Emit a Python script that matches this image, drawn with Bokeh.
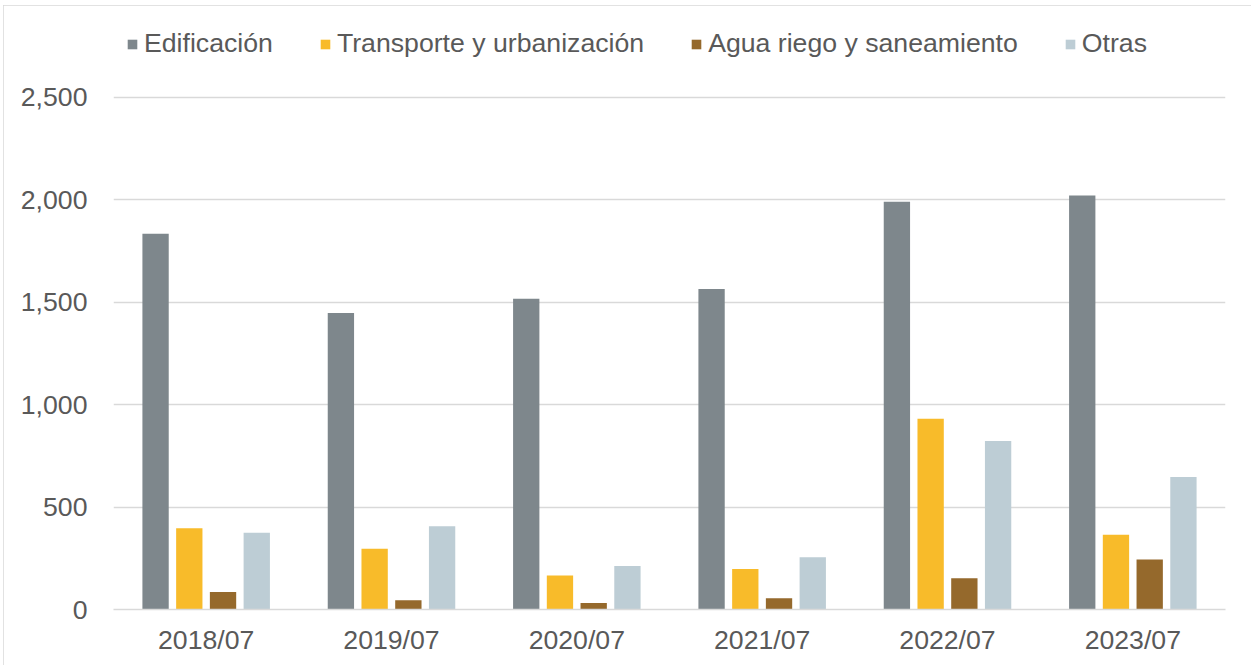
from bokeh.plotting import figure
from bokeh.models import FactorRange, Range1d, Legend, LegendItem, NumeralTickFormatter, FixedTicker
from bokeh.transform import dodge
from bokeh.embed import file_html
from bokeh.resources import INLINE

categories = ["2018/07", "2019/07", "2020/07", "2021/07", "2022/07", "2023/07"]
edificacion = [1834, 1447, 1516, 1564, 1990, 2020]
transporte = [397, 297, 166, 198, 931, 365]
agua = [85, 45, 32, 55, 153, 244]
otras = [374, 406, 212, 255, 822, 646]
series_names = ["Edificación", "Transporte y urbanización", "Agua riego y saneamiento", "Otras"]
colors = ["#7e878c", "#f8bb2a", "#95692c", "#bdcdd5"]
y_ticks = [0, 500, 1000, 1500, 2000, 2500]

data = dict(cat=categories, e=edificacion, t=transporte, a=agua, o=otras)

FONT = "Liberation Sans"
TXT = "#595959"

# y range extends above 2,500 so the legend sits inside the (unclipped) frame area
p = figure(x_range=FactorRange(*categories), y_range=Range1d(0, 2928),
           width=1248, height=660, output_backend="svg", toolbar_location=None,
           min_border_left=110, min_border_right=26, min_border_top=4, min_border_bottom=56,
           background_fill_color="white", border_fill_color="white")
p.styles = {"margin-left": "3px", "margin-top": "5px",
            "outline": "1px solid #d9d9d9", "outline-offset": "-1px"}
p.outline_line_color = None

offsets = [-0.273, -0.091, 0.091, 0.273]
keys = ["e", "t", "a", "o"]
renderers = []
for k, off, c in zip(keys, offsets, colors):
    r = p.vbar(x=dodge("cat", off, range=p.x_range), top=k, width=0.142, source=data,
               fill_color=c, line_color=None)
    renderers.append(r)

p.ygrid.grid_line_color = "#d9d9d9"
p.ygrid.grid_line_width = 1.3
p.xgrid.grid_line_color = None

p.yaxis.ticker = FixedTicker(ticks=y_ticks)
p.yaxis.formatter = NumeralTickFormatter(format="0,0")
p.yaxis.axis_line_color = None
p.yaxis.major_tick_line_color = None
p.yaxis.minor_tick_line_color = None
p.yaxis.major_label_standoff = 20
p.xaxis.axis_line_color = "#d9d9d9"
p.xaxis.axis_line_width = 1.3
p.xaxis.major_tick_line_color = None
p.xaxis.major_label_standoff = 9
for ax in (p.xaxis, p.yaxis):
    ax.major_label_text_font = FONT
    ax.major_label_text_font_size = "26.67px"
    ax.major_label_text_color = TXT

legend = Legend(items=[LegendItem(label=n, renderers=[r]) for n, r in zip(series_names, renderers)],
                orientation="horizontal", location=(13, 550),
                glyph_width=12, glyph_height=12, label_standoff=6, spacing=46,
                padding=0, margin=0, border_line_color=None, background_fill_alpha=0,
                label_text_font=FONT, label_text_font_size="26.67px", label_text_color=TXT)
p.add_layout(legend, "center")

open("out.html", "w").write(file_html(p, INLINE))
